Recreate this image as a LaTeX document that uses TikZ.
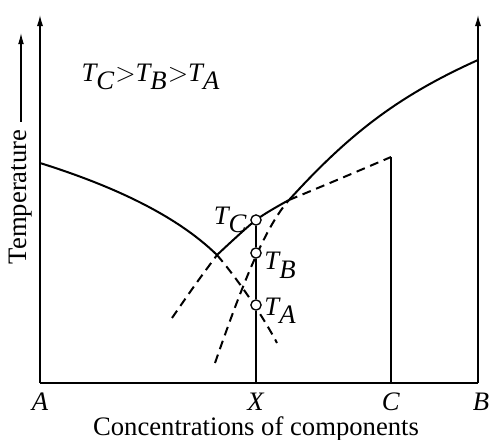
\documentclass[tikz,border=0pt]{standalone}
\usepackage{fontspec}
\setmainfont{Liberation Serif}
\usetikzlibrary{arrows.meta}
\newcommand{\tvar}[1]{$\textit{T}_{\textit{#1}}$}

\begin{document}
\begin{tikzpicture}[
    x=0.45pt, y=0.45pt,
    font=\fontsize{12}{14}\selectfont,
    axis/.style={line width=0.6pt, -{Latex[length=5pt,width=2.8pt]}},
    liquidus/.style={line width=0.9pt},
    metastable/.style={line width=0.9pt, dash pattern=on 4pt off 2.6pt},
    level/.style={line width=0.5pt},
    point/.style={circle, draw, line width=0.6pt, fill=white, inner sep=0pt, minimum size=4.6pt},
    letter/.style={inner sep=0pt}
]
\useasboundingbox (0,0) rectangle (491,439);

% frame of the diagram
\coordinate (A0) at (40,56);
\coordinate (B0) at (478,56);
\coordinate (X0) at (256,56);
\coordinate (C0) at (391,56);
\coordinate (Ctop) at (391,282);
\draw[axis] (A0) -- (40,424);
\draw[axis] (B0) -- (478,424);
\draw[line width=0.6pt] (A0) -- (B0);

% curve from A
\draw[liquidus] (40,276) .. controls (110,254) and (175,225) .. (217,184);
\draw[metastable] (217,184) .. controls (235,163) and (260,128) .. (277,96);
% curve from C
\draw[metastable] plot[smooth] coordinates {(172,121) (195,154) (217,184)};
\draw[liquidus] plot[smooth] coordinates {(217,184) (256,219) (289,239)};
\draw[metastable] plot[smooth] coordinates {(289,239) (337,259) (Ctop)};
% curve from B
\draw[metastable] (215,76) .. controls (240,148) and (264,211) .. (289,239);
\draw[liquidus] (289,239) .. controls (349,305) and (398,343) .. (478,379);

% verticals at X and C
\node[point] (TC) at (256,219) {};
\node[point] (TB) at (256,186) {};
\node[point] (TA) at (256,134) {};
\draw[level] (X0) -- (TA.south);
\draw[level] (TA.north) -- (TB.south);
\draw[level] (TB.north) -- (TC.south);
\draw[level] (C0) -- (Ctop);

% labels
\node[anchor=east, inner sep=1pt] (lTC) at (TC.west) {\tvar{C}};
\node[anchor=west, inner sep=1pt, yshift=-5.5pt] (lTB) at (TB.east) {\tvar{B}};
\node[anchor=west, inner sep=1pt, yshift=-2.5pt] (lTA) at (TA.east) {\tvar{A}};
\node (order) at (151,362) {\tvar{C}$>$\tvar{B}$>$\tvar{A}};

\node[letter] (lA) at (40,37) {\textit{A}};
\node[letter] (lX) at (256,37) {\textit{X}};
\node[letter] (lC) at (391,37) {\textit{C}};
\node[letter] (lB) at (481,37) {\textit{B}};
\node[letter] (conc) at (256,10) {Concentrations of components};

\node[rotate=90] (temp) at (21,242) {Temperature};
\coordinate (temptip) at (21,406);
\draw[line width=0.5pt, -{Latex[length=5pt,width=2.6pt]}] (temp.east) -- (temptip);
\end{tikzpicture}
\end{document}
